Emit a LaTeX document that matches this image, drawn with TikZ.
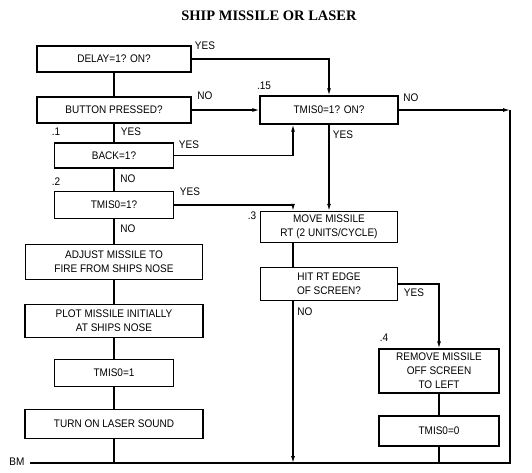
\documentclass[tikz,border=0pt]{standalone}
\usepackage{fontspec}
\setmainfont[FakeStretch=0.91]{Liberation Sans}
\newfontfamily\titlefont{Liberation Serif}
\usepackage{tikz}
\usetikzlibrary{arrows.meta, positioning, calc}

\tikzset{
  box/.style={draw, line width=1.4pt, align=center, inner sep=1pt,
    font=\fontsize{11}{14}\selectfont},
  lbl/.style={font=\fontsize{11}{12}\selectfont, inner sep=0pt},
  link/.style={line width=1.2pt},
  arr/.style={link, -{Latex[length=7pt,width=4pt]}}
}

\begin{document}
\begin{tikzpicture}[x=1pt, y=-1pt]
  \useasboundingbox (0,0) rectangle (532,472);

  \node[font=\titlefont\bfseries\fontsize{14.5}{16}\selectfont] (title) at (269,16) {SHIP MISSILE OR LASER};

  % Boxes
  \node[box, minimum width=154, minimum height=26] (delay) at (114,59) {DELAY=1? ON?};
  \node[box, minimum width=154, minimum height=26] (button) at (114,110) {BUTTON PRESSED?};
  \node[box, minimum width=138, minimum height=28] (tmison) at (329,110) {TMIS0=1? ON?};
  \node[box, minimum width=119, minimum height=25] (back) at (114,155.5) {BACK=1?};
  \node[box, minimum width=119, minimum height=27] (tmis) at (114,205) {TMIS0=1?};
  \node[box, minimum width=137, minimum height=31] (move) at (329,227) {MOVE MISSILE\\RT (2 UNITS/CYCLE)};
  \node[box, minimum width=177, minimum height=35] (adjust) at (114,262) {ADJUST MISSILE TO\\FIRE FROM SHIPS NOSE};
  \node[box, minimum width=137, minimum height=33] (hit) at (329,284) {HIT RT EDGE\\OF SCREEN?};
  \node[box, minimum width=178, minimum height=33] (plot) at (114,321) {PLOT MISSILE INITIALLY\\AT SHIPS NOSE};
  \node[box, minimum width=119, minimum height=27] (tmisone) at (114,373) {TMIS0=1};
  \node[box, minimum width=178, minimum height=29] (turn) at (114,424) {TURN ON LASER SOUND};
  \node[box, minimum width=120, minimum height=44] (remove) at (439,371) {REMOVE MISSILE\\OFF SCREEN\\TO LEFT};
  \node[box, minimum width=120, minimum height=30] (tmiszero) at (439,431) {TMIS0=0};

  \coordinate (jog) at (293,0);
  \coordinate (bmL) at (30,463);
  \coordinate (bmR) at (510,463);

  % Connectors
  \draw[arr] (delay.east) -| (tmison.north);
  \draw[link] (delay) -- (button);
  \draw[arr] (button.east) -- (button.east -| tmison.west);
  \draw[link] (button) -- (back);
  \draw[arr] (back.east) -| (jog |- tmison.south);
  \draw[link] (back) -- (tmis);
  \draw[arr] (tmis.east) -| (jog |- move.north);
  \draw[arr] (tmison) -- (move);
  \draw[link] (tmis) -- (adjust);
  \draw[link] (adjust) -- (plot);
  \draw[link] (plot) -- (tmisone);
  \draw[link] (tmisone) -- (turn);
  \draw[link] (turn) -- (turn |- bmL);
  \draw[link] (jog |- move.south) -- (jog |- hit.north);
  \draw[arr] (jog |- hit.south) -- (jog |- bmL);
  \draw[arr] (hit.east) -| (remove.north);
  \draw[link] (remove) -- (tmiszero);
  \draw[link] (tmiszero) -- (tmiszero |- bmL);
  \draw[arr] (tmison.east) -- (tmison.east -| bmR);
  \draw[link] (tmison.east -| bmR) -- (bmR) -- (bmL);

  % Labels
  \node[lbl] (ydelay) at (205,46) {YES};
  \node[lbl] (nbutton) at (205,96) {NO};
  \node[lbl] (ntmison) at (411,98) {NO};
  \node[lbl] (ybutton) at (131,132) {YES};
  \node[lbl] (yback) at (189,145) {YES};
  \node[lbl] (ytmison) at (343,135) {YES};
  \node[lbl] (nback) at (128,179) {NO};
  \node[lbl] (ytmis) at (190,192) {YES};
  \node[lbl] (ntmis) at (128,229) {NO};
  \node[lbl] (yhit) at (414,293) {YES};
  \node[lbl] (nhit) at (305,312) {NO};
  \node[lbl] (p15) at (264,86) {.15};
  \node[lbl] (p1) at (56,132) {.1};
  \node[lbl] (p2) at (56,182) {.2};
  \node[lbl] (p3) at (252,216) {.3};
  \node[lbl] (p4) at (384,338) {.4};
  \node[lbl] (bm) at (17,462) {BM};
\end{tikzpicture}
\end{document}
